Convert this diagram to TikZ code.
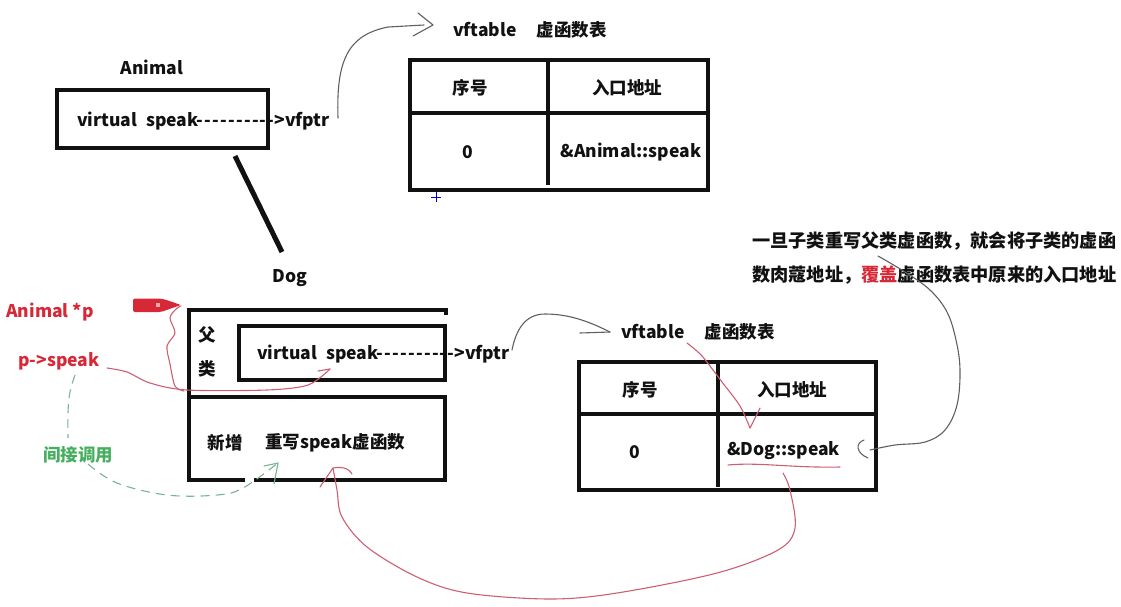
\documentclass[tikz,border=0pt]{standalone}
\usepackage{fontspec}
\setmainfont{Noto Sans CJK SC}
\usetikzlibrary{arrows.meta}
\definecolor{pred}{RGB}{215,40,55}
\definecolor{penred}{RGB}{205,95,115}
\definecolor{pgreen}{RGB}{70,175,95}
\definecolor{dgreen}{RGB}{120,180,150}
\definecolor{pgray}{RGB}{95,95,95}
\definecolor{ink}{RGB}{17,17,17}
\newcommand\dashrow{-\kern1.2pt-\kern1.2pt-\kern1.2pt-\kern1.2pt-\kern1.2pt-\kern1.2pt-\kern1.2pt-\kern1.2pt-\kern1.2pt-}
\begin{document}
\begin{tikzpicture}[x=1pt,y=-1pt,
  every node/.style={font=\fontsize{17.5}{20}\selectfont\bfseries, inner sep=0pt, text=ink},
  notefont/.style={font=\fontsize{18.2}{20}\selectfont\bfseries},
  box/.style={line width=4.5pt, ink},
  pen/.style={line width=1.1pt, pgray, line cap=round, line join=round},
  redpen/.style={line width=1.1pt, penred, line cap=round, line join=round},
  greenpen/.style={line width=1.1pt, dgreen, dash pattern=on 9pt off 6pt},
  greensolid/.style={line width=1.1pt, dgreen, line cap=round}]
\useasboundingbox (0,0) rectangle (1121,606);

% ---------- Animal ----------
\node (animal) at (152,67) {Animal};
\draw[box] (57,90) rectangle (268,148);
\node[anchor=west] (avirt) at (77,121) {virtual\hspace{9pt}speak\dashrow>vfptr};
\draw[line width=5pt, ink] (235,156) -- (282,252);

% vfptr -> vftable (top)
\coordinate (a1) at (338,118);
\coordinate (a2) at (424,25);
\draw[pen] (a1) .. controls (336,60) and (348,35) .. (388,27) -- (a2);
\draw[pen] (418,13) -- (433,25) -- (413,36);

\node[anchor=west] (vft1) at (453,30) {vftable\hspace{20pt}虚函数表};
\draw[box] (410,60) rectangle (708,190);
\draw[box] (410,113) -- (708,113);
\draw[box] (548,60) -- (548,185);
\node (t1a) at (470,88) {序号};
\node (t1b) at (627,88) {入口地址};
\node (t1c) at (468,152) {0};
\node (t1d) at (631,152) {\&Animal::speak};
\draw[blue!70!black, line width=1pt] (431,197) -- (441,197) (436,192) -- (436,202);

% ---------- Dog ----------
\node (dog) at (290,278) {Dog};
\draw[box] (189,310) -- (446,310) -- (446,315);
\draw[box] (189,308) -- (189,482);
\draw[box] (239,326) rectangle (445,380);
\draw[box] (189,397) -- (445,397) -- (445,480) -- (254,480);
\draw[box] (189,480) -- (245,480);
\node (fu) at (207,335) {父};
\node (lei) at (207,369) {类};
\node[anchor=west] (dvirt) at (257,354) {virtual\hspace{9pt}speak\dashrow>vfptr};
\node (xz) at (225,443) {新增};
\node[anchor=west] (cx) at (265,443) {重写speak虚函数};

% vfptr -> vftable (dog)
\coordinate (b1) at (512,350);
\coordinate (b2) at (610,332);
\draw[pen] (b1) .. controls (516,330) and (525,314) .. (545,314) .. controls (570,314) and (590,322) .. (b2);
\draw[pen] (580,333) -- (b2);

\node[anchor=west] (vft2) at (621,332) {vftable\hspace{20pt}虚函数表};
\draw[box] (579,362) rectangle (876,490);
\draw[box] (579,414) -- (876,414);
\draw[box] (718,362) -- (718,487);
\node (t2a) at (640,390) {序号};
\node (t2b) at (792,390) {入口地址};
\node (t2c) at (635,452) {0};
\node[anchor=west] (t2d) at (727,451) {\&Dog::speak};

% ---------- right note ----------
\node[anchor=west, notefont] (note1) at (752,241) {一旦子类重写父类虚函数，就会将子类的虚函};
\node[anchor=west, notefont] (note2) at (752,275) {数肉蔻地址，\textcolor{pred}{覆盖}虚函数表中原来的入口地址};
\draw[pen] plot[smooth, tension=0.6] coordinates {(878,256) (905,272) (930,290) (947,312) (956,340) (960,370) (957,405) (945,430) (925,442) (895,445) (870,450)};
\draw[pen] (864,440) .. controls (855,443) and (856,453) .. (868,458);

% ---------- pointer ----------
\node[text=pred] (ap) at (50,312) {Animal *p};
\node[text=pred] (ps) at (59,361) {p->speak};
\fill[pred, rounded corners=2pt] (133,298.5) -- (161,298.5) -- (168,300.5) -- (181,305) -- (168,309.5) -- (161,312) -- (133,312) -- cycle;
\fill[red!35!white] (156,303) rectangle (160,307);
\coordinate (tip) at (181,306);
\draw[redpen] plot[smooth, tension=0.5] coordinates {(tip) (176,309) (170,318) (175,333) (167,346) (170,364) (175,386) (184,391)};
\coordinate (p1) at (107,368);
\coordinate (p2) at (330,369);
\draw[redpen] plot[smooth, tension=0.5] coordinates {(p1) (127,372) (150,383) (187,390) (267,390) (308,385) (p2)};
\draw[redpen] (p2) -- (318,371);

% indirect call
\draw[greenpen] plot[smooth, tension=0.6] coordinates {(75,375) (70,392) (68,412) (68,438)};
\node[text=pgreen] (jj) at (78,455) {间接调用};
\coordinate (g2) at (278,463);
\draw[greenpen] plot[smooth, tension=0.6] coordinates {(88,464) (117,483) (167,495) (217,495) (243,488) (g2)};
\draw[greensolid] (264,466) -- (g2) -- (274,484);

% vftable -> &Dog::speak
\coordinate (r1) at (687,343);
\coordinate (r2) at (750,428);
\draw[redpen] plot[smooth, tension=0.5] coordinates {(r1) (702,356) (722,382) (740,406) (r2)};
\draw[redpen] (r2) -- (760,408);
\draw[redpen] (728,465) .. controls (760,462) and (790,468) .. (840,467);

% &Dog::speak -> 重写speak虚函数
\coordinate (s1) at (783,473);
\coordinate (s2) at (333,468);
\draw[redpen] plot[smooth, tension=0.55] coordinates {(s1) (790,490) (795,528) (778,550) (717,573) (617,593) (550,599) (467,593) (417,577) (367,547) (342,517) (337,490) (s2)};
\draw[redpen] (320,487) -- (s2) .. controls (345,466) and (350,470) .. (352,474);
\end{tikzpicture}
\end{document}
